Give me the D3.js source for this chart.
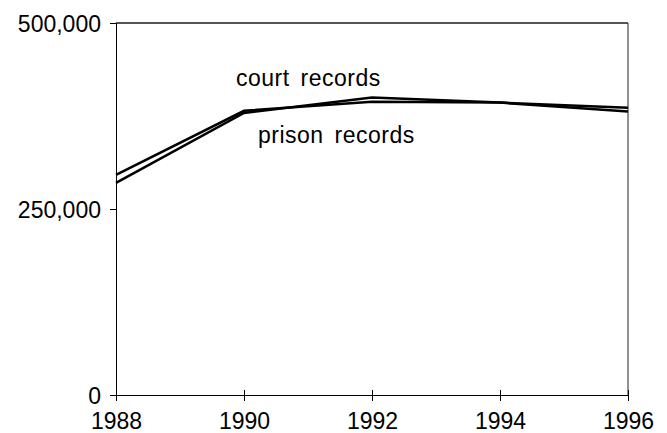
<!DOCTYPE html>
<html><head><meta charset="utf-8">
<script src="https://cdn.jsdelivr.net/npm/d3@7"></script>
<style>body{margin:0;background:#fff}svg{display:block}text{font-family:"Liberation Sans",Arial,sans-serif;fill:#000}</style>
</head><body><svg id="c" width="667" height="433"></svg>
<script>
const years = [1988, 1990, 1992, 1994, 1996];
const courtRecords = [285000, 379000, 400000, 393000, 381000];
const prisonRecords = [296000, 382000, 394000, 393000, 386000];
const yTicks = [0, 250000, 500000];
const xTicks = [1988, 1990, 1992, 1994, 1996];
const seriesLabels = ["court records", "prison records"];

const svg = d3.select("#c");
const m = {l:116, r:628, t:23, b:395};
const x = d3.scaleLinear().domain([1988,1996]).range([m.l,m.r]);
const y = d3.scaleLinear().domain([0,500000]).range([m.b,m.t]);

// frame top and right
svg.append("line").attr("x1",m.l).attr("x2",m.r).attr("y1",m.t).attr("y2",m.t).attr("stroke","#555").attr("stroke-width",2);
svg.append("line").attr("x1",m.r).attr("x2",m.r).attr("y1",m.t).attr("y2",m.b).attr("stroke","#222").attr("stroke-width",1);

const fmt = d3.format(",");
const ya = svg.append("g").attr("transform",`translate(${m.l},0)`)
  .call(d3.axisLeft(y).tickValues(yTicks).tickFormat(fmt).tickSizeOuter(0).tickSize(6).tickPadding(9));
ya.select(".domain").attr("stroke","#000");
ya.selectAll(".tick text").style("font-size","23px").attr("dy","0.35em");
const xa = svg.append("g").attr("transform",`translate(0,${m.b})`)
  .call(d3.axisBottom(x).tickValues(xTicks).tickFormat(d3.format("d")).tickSizeOuter(0).tickSize(6).tickPadding(12));
xa.selectAll(".tick line").attr("y1",-5);
xa.selectAll(".tick text").style("font-size","23px");

const line = d3.line().x((d,i)=>x(years[i])).y(d=>y(d));
[courtRecords, prisonRecords].forEach(s=>{
  svg.append("path").datum(s).attr("d",line).attr("fill","none").attr("stroke","#000").attr("stroke-width",2.5);
});

svg.append("text").attr("x",236).attr("y",86).style("font-size","23px").style("letter-spacing","0.5px").style("word-spacing","4px").text(seriesLabels[0]);
svg.append("text").attr("x",258).attr("y",143).style("font-size","23px").style("letter-spacing","0.5px").style("word-spacing","4px").text(seriesLabels[1]);
</script></body></html>
